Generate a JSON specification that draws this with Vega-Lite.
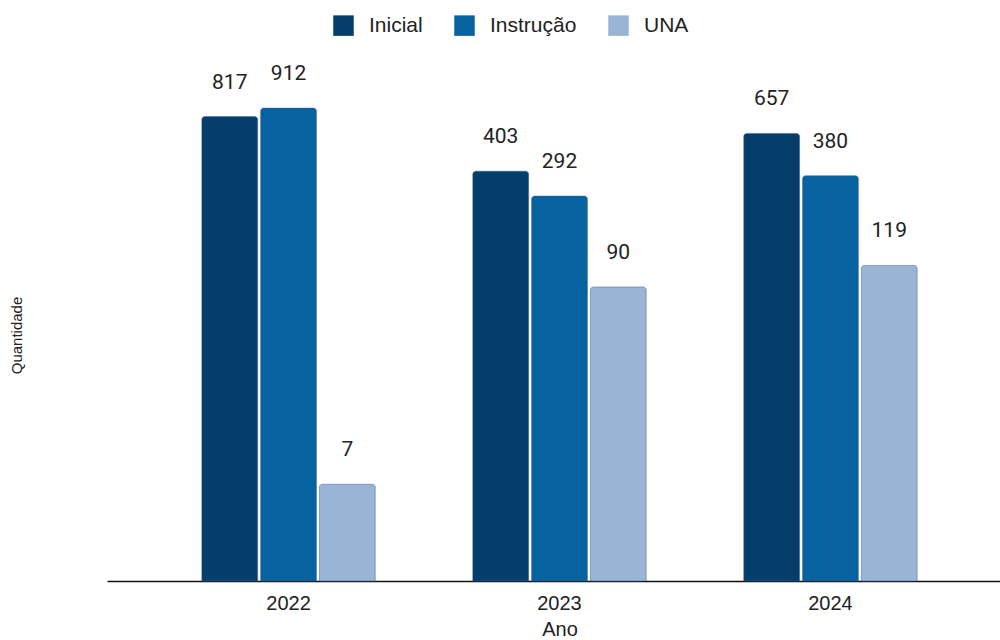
{
  "$schema": "https://vega.github.io/schema/vega-lite/v6.json",
  "autosize": "none",
  "padding": {"left": 107, "top": 101, "right": 0, "bottom": 59},
  "width": 905,
  "height": 480,
  "background": "white",
  "config": {"view": {"stroke": null}, "font": "Liberation Sans"},
  "data": {"values": [
    {"ano": "2022", "tipo": "Inicial", "valor": 817},
    {"ano": "2022", "tipo": "Instrução", "valor": 912},
    {"ano": "2022", "tipo": "UNA", "valor": 7},
    {"ano": "2023", "tipo": "Inicial", "valor": 403},
    {"ano": "2023", "tipo": "Instrução", "valor": 292},
    {"ano": "2023", "tipo": "UNA", "valor": 90},
    {"ano": "2024", "tipo": "Inicial", "valor": 657},
    {"ano": "2024", "tipo": "Instrução", "valor": 380},
    {"ano": "2024", "tipo": "UNA", "valor": 119}
  ]},
  "encoding": {
    "x": {"field": "ano", "type": "nominal", "title": "Ano",
      "scale": {"paddingInner": 0.36, "paddingOuter": 0.35},
      "axis": {"labelAngle": 0, "labelFontSize": 20, "labelColor": "#222", "labelPadding": 12, "ticks": false,
        "domainColor": "#111", "domainWidth": 1.5, "titleFontSize": 20, "titleFontWeight": "normal", "titleColor": "#222", "titlePadding": 6}},
    "xOffset": {"field": "tipo", "type": "nominal", "sort": ["Inicial", "Instrução", "UNA"], "scale": {"paddingInner": 0.05}},
    "y": {"field": "valor", "type": "quantitative", "title": "Quantidade",
      "scale": {"type": "log", "domain": [2, 1000], "nice": false},
      "axis": {"labels": false, "ticks": false, "domain": false, "grid": false,
        "titleFontSize": 15, "titleFontWeight": "normal", "titleColor": "#222", "titleX": -83, "titleY": 234}}
  },
  "layer": [
    {
      "mark": {"type": "bar", "cornerRadiusTopLeft": 3, "cornerRadiusTopRight": 3, "stroke": "#3e5f92", "strokeWidth": 0.8, "strokeOpacity": 0.6},
      "encoding": {
        "y2": {"datum": 2},
        "color": {"field": "tipo", "type": "nominal", "title": null,
          "sort": ["Inicial", "Instrução", "UNA"],
          "scale": {"domain": ["Inicial", "Instrução", "UNA"], "range": ["#053e6a", "#0762a0", "#9ab4d6"]},
          "legend": {"orient": "none", "direction": "horizontal", "legendX": 226, "legendY": -86,
            "symbolType": "square", "symbolSize": 420, "symbolStrokeWidth": 0, "labelFontSize": 21, "labelColor": "#222",
            "labelOffset": 15, "columnPadding": 31}}
      }
    },
    {
      "mark": {"type": "text", "baseline": "bottom", "dy": -24, "fontSize": 21, "font": "Roboto", "color": "#222"},
      "encoding": {"text": {"field": "valor", "type": "quantitative"}}
    }
  ]
}
